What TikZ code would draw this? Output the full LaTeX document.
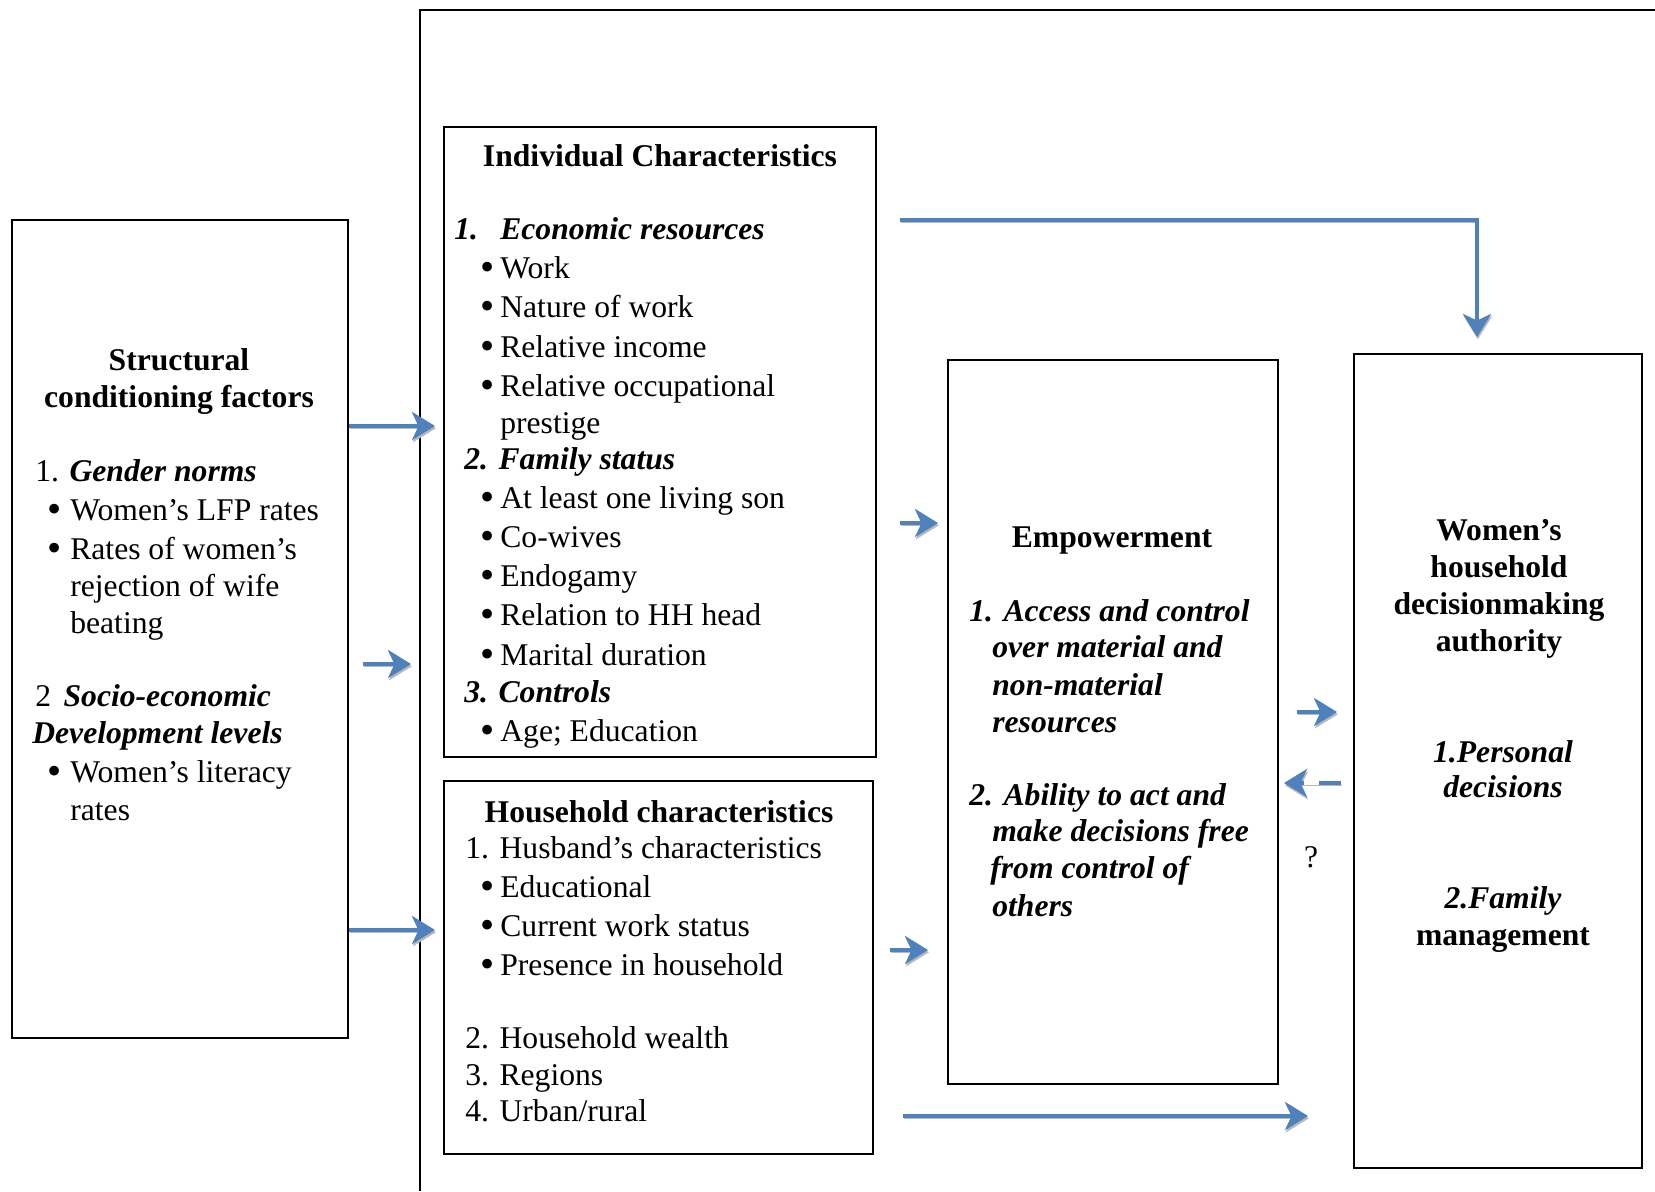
\documentclass[tikz,border=0pt]{standalone}
\usepackage{fontspec}
\setmainfont{Liberation Serif}
\usetikzlibrary{arrows.meta}
\usetikzlibrary{fit}
\definecolor{flowblue}{RGB}{79,129,189}
\newcommand{\fsz}{\fontsize{18}{21}\selectfont}
\newcommand{\bul}[1][0.34cm]{\makebox[#1][l]{\raisebox{-0.2ex}{\fontsize{23}{23}\selectfont\textbullet}}}
\tikzset{
    boxn/.style = {rectangle, draw=black, line width=1.1pt, inner sep=0pt},
    framen/.style = {-, line width=1.1pt, black},
    txtn/.style = {anchor=base west, inner sep=0pt, font=\fsz},
    txtc/.style = {anchor=base, inner sep=0pt, font=\fsz},
    txtb/.style = {font=\fsz\bfseries},
    txtbi/.style = {font=\fsz\bfseries\itshape},
    flowb/.style = {line width=2.7pt, draw=flowblue,
        -{Stealth[length=0.46cm,width=0.56cm,inset=0.13cm]},
        preaction={draw=black!28, transform canvas={shift={(0.5pt,-1.3pt)}}}},
    flowbd/.style = {flowb, dash pattern=on 0.44cm off 0.3cm}, % back
}

\begin{document}
\begin{tikzpicture}[x=0.02cm, y=-0.02cm]
  \useasboundingbox (0,0) rectangle (1655,1191);

  % outer frame
  \draw[framen] (420,1191) -- (420,10) -- (1655,10);

  % boxes
  \node[boxn, fit={(12,220) (348,1038)}] (scf) {};
  \node[boxn, fit={(444,127) (876,757)}] (icf) {};
  \node[boxn, fit={(444,781) (873,1154)}] (hcf) {};
  \node[boxn, fit={(948,360) (1278,1084)}] (emf) {};
  \node[boxn, fit={(1354,354) (1642,1168)}] (wdf) {};

  % structural conditioning factors
  \node[txtc, txtb] (sc-t1) at (179,370) {Structural};
  \node[txtc, txtb] (sc-t2) at (179,407) {conditioning factors};
  \node[txtn] (sc-1) at (35,481) {1. \textbf{\textit{Gender norms}}};
  \node[txtn] (sc-1a) at (47,520) {\bul[0.46cm]Women's LFP rates};
  \node[txtn] (sc-1b) at (47,559) {\bul[0.46cm]Rates of women's};
  \node[txtn] (sc-1c) at (70,596) {rejection of wife};
  \node[txtn] (sc-1d) at (70,633) {beating};
  \node[txtn] (sc-2) at (35,706) {2\hspace{0.25cm}\textbf{\textit{Socio-economic}}};
  \node[txtn, txtbi] (sc-2b) at (32,743) {Development levels};
  \node[txtn] (sc-2c) at (47,782) {\bul[0.46cm]Women's literacy};
  \node[txtn] (sc-2d) at (70,820) {rates};

  % individual characteristics
  \node[txtc, txtb] (ic-t) at (660,166) {Individual Characteristics};
  \node[txtn, txtbi] (ic-1n) at (454,239) {1.};
  \node[txtn, txtbi] (ic-1) at (500,239) {Economic resources};
  \foreach \n/\y/\t in {a/278/Work, b/317/Nature of work, c/357/Relative income,
      d/396/Relative occupational}
    \node[txtn] (ic-1\n) at (480,\y) {\bul[0.4cm]\t};
  \node[txtn] (ic-1e) at (500,433) {prestige};
  \node[txtn, txtbi] (ic-2) at (464,469) {2. Family status};
  \foreach \n/\y/\t in {a/508/At least one living son, b/547/Co-wives, c/586/Endogamy,
      d/625/Relation to HH head, e/665/Marital duration}
    \node[txtn] (ic-2\n) at (480,\y) {\bul[0.4cm]\t};
  \node[txtn, txtbi] (ic-3) at (464,702) {3. Controls};
  \node[txtn] (ic-3a) at (480,741) {\bul[0.4cm]Age; Education};

  % household characteristics
  \node[txtc, txtb] (hc-t) at (659,822) {Household characteristics};
  \node[txtn] (hc-1) at (465,858) {1. Husband's characteristics};
  \foreach \n/\y/\t in {a/897/Educational, b/936/Current work status, c/975/Presence in household}
    \node[txtn] (hc-1\n) at (480,\y) {\bul[0.4cm]\t};
  \node[txtn] (hc-2) at (465,1048) {2. Household wealth};
  \node[txtn] (hc-3) at (465,1085) {3. Regions};
  \node[txtn] (hc-4) at (465,1121) {4. Urban/rural};

  % empowerment
  \node[txtc, txtb] (em-t) at (1112,547) {Empowerment};
  \node[txtn, txtbi] (em-1) at (969,621) {1. Access and control};
  \node[txtn, txtbi] (em-1a) at (992,657) {over material and};
  \node[txtn, txtbi] (em-1b) at (992,695) {non-material};
  \node[txtn, txtbi] (em-1c) at (992,732) {resources};
  \node[txtn, txtbi] (em-2) at (969,805) {2. Ability to act and};
  \node[txtn, txtbi] (em-2a) at (992,841) {make decisions free};
  \node[txtn, txtbi] (em-2b) at (990,878) {from control of};
  \node[txtn, txtbi] (em-2c) at (992,916) {others};

  % decisionmaking authority
  \node[txtc, txtb] (wd-t1) at (1499,540) {Women's};
  \node[txtc, txtb] (wd-t2) at (1499,577) {household};
  \node[txtc, txtb] (wd-t3) at (1499,614) {decisionmaking};
  \node[txtc, txtb] (wd-t4) at (1499,651) {authority};
  \node[txtc, txtbi] (wd-1) at (1503,762) {1.Personal};
  \node[txtc, txtbi] (wd-1a) at (1503,797) {decisions};
  \node[txtc, txtbi] (wd-2) at (1503,908) {2.Family};
  \node[txtc, txtb] (wd-2a) at (1503,945) {management};

  % arrows
  \draw[flowb] (scf.east |- 0,426) -- ([xshift=-0.16cm]icf.west |- 0,426);
  \draw[flowb] ([xshift=0.28cm]scf.east |- 0,664) -- ([xshift=-0.64cm]icf.west |- 0,664);
  \draw[flowb] (scf.east |- 0,930) -- ([xshift=-0.16cm]hcf.west |- 0,930);
  \draw[flowb] ([xshift=0.46cm]icf.east |- 0,523) -- ([xshift=-0.18cm]emf.west |- 0,523);
  \draw[flowb] ([xshift=0.32cm]hcf.east |- 0,950) -- ([xshift=-0.38cm]emf.west |- 0,950);
  \draw[flowb] ([xshift=0.46cm]icf.east |- 0,220) -| ([xshift=-0.42cm, yshift=0.32cm]wdf.north);
  \draw[flowb] ([xshift=0.58cm]hcf.east |- 0,1116) -- ([xshift=-0.9cm]wdf.west |- 0,1116);
  \draw[flowb] ([xshift=0.36cm]emf.east |- 0,712) -- ([xshift=-0.32cm]wdf.west |- 0,712);
  \draw[flowbd] ([xshift=-0.24cm]wdf.west |- 0,783) -- ([xshift=0.1cm]emf.east |- 0,783);
  \node[txtc] (q) at (1311,867) {?};

\end{tikzpicture}
\end{document}
